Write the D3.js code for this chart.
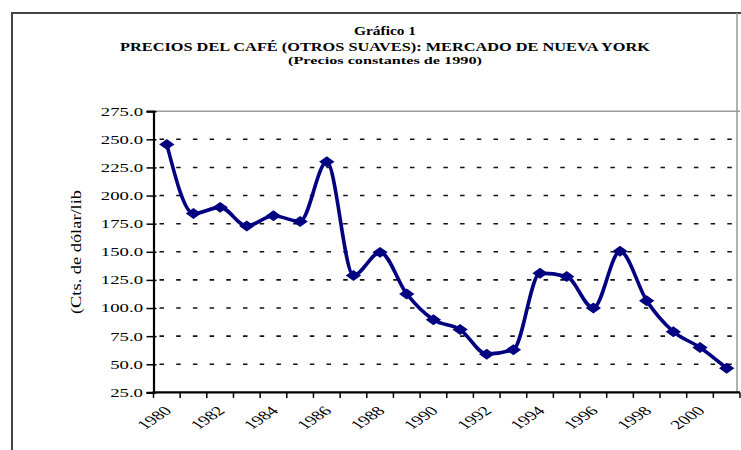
<!DOCTYPE html>
<html>
<head>
<meta charset="utf-8">
<script src="https://cdn.jsdelivr.net/npm/d3@7"></script>
<style>
  body { margin: 0; background: #fff; }
  svg { display: block; }
  text { font-family: "Liberation Serif", "Times New Roman", serif; fill: #000; }
</style>
</head>
<body>
<svg id="chart" width="741" height="450"></svg>
<script>
// datos
var years = d3.range(1980, 2002);
var precios = [245.5, 184, 189.5, 173, 182, 177, 230, 129, 149.5, 112.5, 89.5,
               81, 59, 63, 131, 128, 100, 150.5, 106.5, 79, 65, 46.5];
var yTicks = [25, 50, 75, 100, 125, 150, 175, 200, 225, 250, 275];
var xLabels = [1980, 1982, 1984, 1986, 1988, 1990, 1992, 1994, 1996, 1998, 2000];
var titulos = ["Gráfico 1",
               "PRECIOS DEL CAFÉ (OTROS SUAVES):  MERCADO DE NUEVA YORK",
               "(Precios constantes de 1990)"];
var yTitulo = "(Cts. de dólar/lib";

var svg = d3.select("#chart");
var sx = 1.5; // el original está estirado en horizontal

var pLeft = 153.5, pRight = 740, pTop = 111.2, pBottom = 392.4;

var x = d3.scaleBand().domain(years).range([pLeft, pRight]);
var y = d3.scaleLinear().domain([25, 275]).range([pBottom, pTop]);

// marco exterior
svg.append("path")
    .attr("d", "M12,450 L12,13 L741,13")
    .attr("fill", "none").attr("stroke", "#444").attr("stroke-width", 2);

// títulos
var tit = [{s: 11.5, y: 35, w: 62}, {s: 12.5, y: 51, w: 530}, {s: 10.5, y: 64, w: 194}];
svg.selectAll(".titulo")
    .data(titulos)
  .enter().append("text")
    .attr("class", "titulo")
    .attr("x", 385)
    .attr("y", function(d, i) { return tit[i].y; })
    .attr("text-anchor", "middle")
    .attr("font-weight", "bold")
    .attr("font-size", function(d, i) { return tit[i].s + "px"; })
    .attr("textLength", function(d, i) { return tit[i].w; })
    .attr("lengthAdjust", "spacingAndGlyphs")
    .text(function(d) { return d; });

// rejilla punteada
svg.append("g")
  .selectAll("line")
  .data(yTicks.filter(function(d) { return d > 25 && d < 275; }))
  .enter().append("line")
    .attr("x1", pLeft + 6).attr("x2", pRight)
    .attr("y1", function(d) { return y(d); })
    .attr("y2", function(d) { return y(d); })
    .attr("stroke", "#111")
    .attr("stroke-width", 1.6)
    .attr("stroke-dasharray", "4.5,12.2");

// borde del área de trazado
svg.append("line")
    .attr("x1", pLeft).attr("x2", pRight).attr("y1", pTop).attr("y2", pTop)
    .attr("stroke", "#999").attr("stroke-width", 1.5);
svg.append("line")
    .attr("x1", 737).attr("x2", 737).attr("y1", 13).attr("y2", pBottom)
    .attr("stroke", "#999").attr("stroke-width", 1.5);

// eje Y
var yAxis = svg.append("g")
    .attr("transform", "translate(" + pLeft + ",0)")
    .call(d3.axisLeft(y).tickValues(yTicks).tickSize(7).tickFormat(""));
yAxis.select(".domain").attr("stroke", "#000").attr("stroke-width", 2.2);
yAxis.selectAll(".tick line").attr("stroke-width", 1.5).attr("x2", -7).attr("x1", 3);

svg.append("g")
  .selectAll("text")
  .data(yTicks)
  .enter().append("text")
    .attr("transform", function(d) { return "translate(143," + y(d) + ") scale(" + sx + ",1)"; })
    .attr("dy", "0.35em")
    .attr("text-anchor", "end")
    .attr("font-size", "12.5px")
    .text(function(d) { return d3.format(".1f")(d); });

// eje X: marcas entre categorías
var bordes = years.map(function(d) { return x(d); }).concat([pRight]);
var xAxis = svg.append("g");
xAxis.append("line")
    .attr("x1", pLeft - 1).attr("x2", pRight).attr("y1", pBottom).attr("y2", pBottom)
    .attr("stroke", "#000").attr("stroke-width", 2.2);
xAxis.selectAll(".tk")
    .data(bordes)
  .enter().append("line")
    .attr("class", "tk")
    .attr("x1", function(d) { return d; }).attr("x2", function(d) { return d; })
    .attr("y1", pBottom).attr("y2", pBottom + 5.5)
    .attr("stroke", "#000").attr("stroke-width", 1.5);

svg.append("g")
  .selectAll("text")
  .data(xLabels)
  .enter().append("text")
    .attr("transform", function(d) {
      return "translate(" + (x(d) + x.bandwidth() / 2 + 1) + "," + (pBottom + 16) + ") scale(" + sx + ",1) rotate(-45)";
    })
    .attr("dy", "0.35em")
    .attr("text-anchor", "end")
    .attr("font-size", "13px")
    .text(function(d) { return d; });

// título del eje Y
svg.append("text")
    .attr("transform", "translate(81,252) scale(1.1,1) rotate(-90)")
    .attr("text-anchor", "middle")
    .attr("font-size", "14px")
    .attr("textLength", 124)
    .attr("lengthAdjust", "spacingAndGlyphs")
    .text(yTitulo);

// serie
var cx = function(d, i) { return x(years[i]) + x.bandwidth() / 2; };
var line = d3.line()
    .x(cx)
    .y(function(d) { return y(d); })
    .curve(d3.curveMonotoneX);

svg.append("path")
    .datum(precios)
    .attr("d", line)
    .attr("fill", "none")
    .attr("stroke", "#000080")
    .attr("stroke-width", 3.6)
    .attr("stroke-linejoin", "round");

svg.append("g")
  .selectAll("path")
  .data(precios)
  .enter().append("path")
    .attr("d", d3.symbol(d3.symbolSquare, 60))
    .attr("transform", function(d, i) {
      return "translate(" + cx(d, i) + "," + y(d) + ") scale(1.4,1) rotate(45)";
    })
    .attr("fill", "#000080");
</script>
</body>
</html>
